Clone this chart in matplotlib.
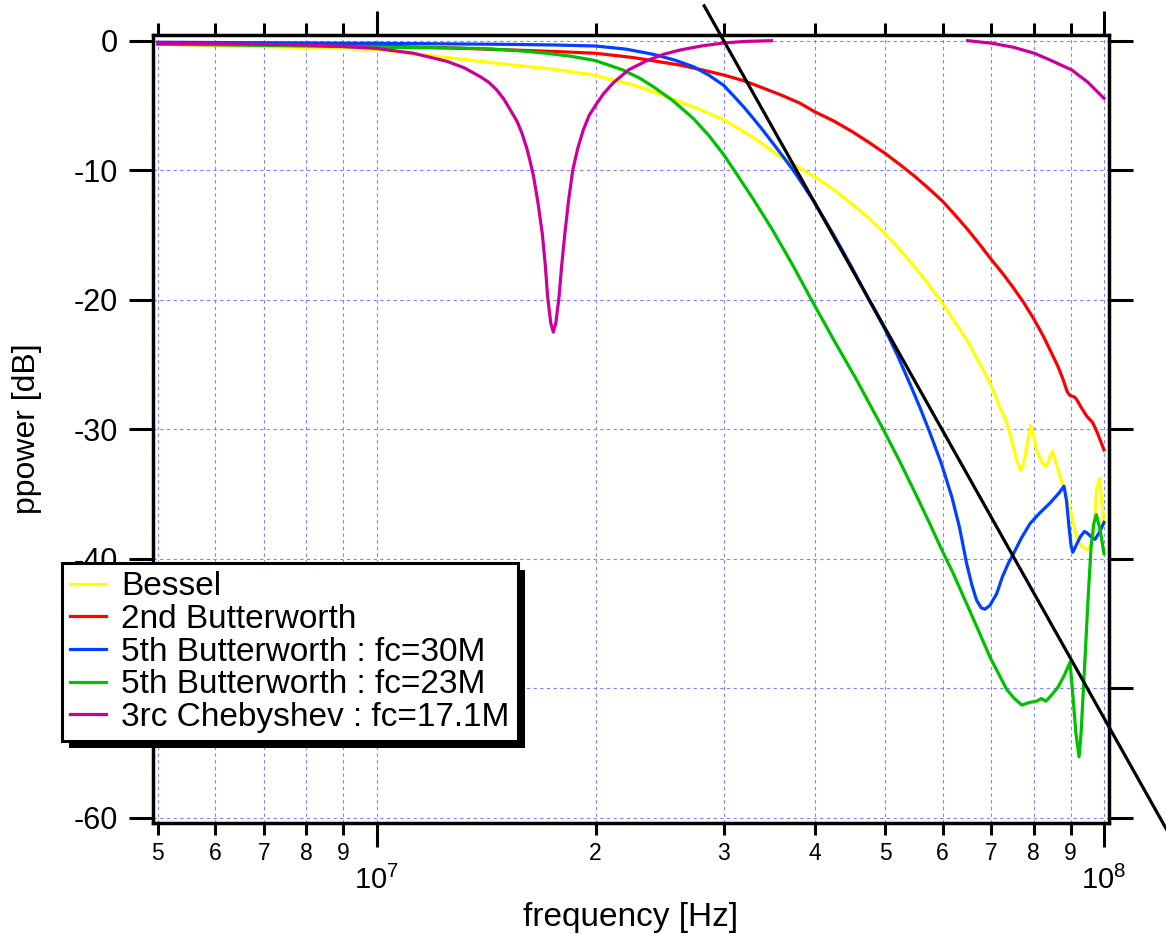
import numpy as np
import matplotlib
matplotlib.use('Agg')
import matplotlib.pyplot as plt
from matplotlib.patches import Rectangle
from matplotlib.ticker import FixedLocator, FixedFormatter
from matplotlib.transforms import IdentityTransform

plt.rcParams['font.family'] = ['Liberation Sans', 'DejaVu Sans']
plt.rcParams['axes.unicode_minus'] = False

# frequency in MHz, power in dB
bessel_f = [5, 6, 7, 8, 10, 11, 12.5, 15.4, 17.5, 19.85, 22.5, 25, 27.5, 30, 33, 35.85, 40, 42.5, 45, 47.5,
            50, 52.5, 55, 57.5, 60, 62.5, 64.75, 67, 69.7, 71.9, 73.5, 74.8, 75.85, 76.8, 77.6, 78.3, 79.3,
            80.1, 80.8, 82, 83.2, 84.2, 85, 86.5, 87.9, 89.8, 91.7, 93, 94.9, 96, 96.6, 97.2, 97.7, 98.6,
            99.3, 100]
bessel_db = [-0.28, -0.36, -0.45, -0.53, -0.68, -0.95, -1.3, -1.88, -2.2, -2.65, -3.4, -4.3, -5.2, -6.1,
             -7.5, -8.96, -10.5, -11.5, -12.6, -13.7, -14.9, -16.2, -17.5, -18.9, -20.3, -21.8, -23.1,
             -24.6, -26.4, -28.3, -29.5, -31.0, -32.4, -33.2, -32.6, -31.35, -29.7, -30.6, -31.6, -32.5,
             -32.9, -32.2, -31.7, -33.15, -34.4, -36.2, -38.3, -39.0, -39.3, -38.9, -38.3, -36.5, -34.7,
             -33.8, -35.5, -37.3]

butter2_f = [5, 7, 10, 12.5, 15, 17.5, 20, 22.5, 24, 26.1, 28, 30, 32, 33.6, 36, 38.2, 40, 42.5, 45, 47.5,
             50, 52.5, 55, 57.5, 60, 62.5, 65, 67.5, 70, 72.5, 75, 77.5, 80, 82.5, 85, 86.5, 87.9, 89,
             89.8, 91, 91.7, 93, 94.7, 96.5, 97.8, 100]
butter2_db = [-0.15, -0.25, -0.41, -0.55, -0.7, -0.83, -0.97, -1.3, -1.55, -1.88, -2.25, -2.65, -3.1, -3.55,
              -4.2, -4.83, -5.48, -6.2, -7.0, -7.85, -8.7, -9.6, -10.5, -11.45, -12.4, -13.5, -14.6,
              -15.75, -16.9, -17.95, -19.05, -20.2, -21.45, -22.8, -24.3, -25.2, -26.2, -27.1, -27.4,
              -27.5, -27.7, -28.3, -29.0, -29.5, -30.2, -31.6]

butter5_30_f = [5, 10, 15, 17.5, 20, 22, 24, 25.7, 27.24, 28.6, 30, 31, 32, 33, 34, 35.2, 36.6, 37.7, 40,
                42.5, 45, 47.5, 50, 52, 54.1, 56, 57.65, 59.8, 61.75, 63.3, 64.75, 65.8, 66.8, 67.8, 68.6,
                69.7, 71.2, 72.5, 73.8, 75.1, 77, 79.1, 81.5, 84.3, 86.8, 88.1, 88.8, 89.5, 90.1, 90.6,
                91.5, 92.8, 94.0, 94.7, 96, 97.2, 98.5, 100]
butter5_30_db = [-0.12, -0.2, -0.28, -0.33, -0.41, -0.65, -1.05, -1.5, -2.0, -2.65, -3.45, -4.3, -5.15, -6.05,
                 -6.95, -8.05, -9.3, -10.3, -12.5, -15.0, -17.5, -20.0, -22.3, -24.3, -26.5, -28.5, -30.3,
                 -32.7, -35.2, -37.6, -40.4, -42.0, -43.2, -43.8, -43.9, -43.6, -42.7, -41.4, -40.4, -39.6,
                 -38.4, -37.3, -36.5, -35.7, -34.9, -34.4, -35.5, -37.5, -39.0, -39.5, -39.0, -38.3, -37.9,
                 -38.0, -38.3, -38.5, -38.0, -37.2]

butter5_23_f = [5, 7, 10, 12, 13.9, 15.5, 17, 18.5, 20, 21.8, 23, 24, 25.5, 27.24, 28.6, 30, 31, 33, 35,
                37.3, 39.6, 42.5, 45.7, 49.7, 52.5, 55.3, 57.5, 59.7, 62, 65, 67.5, 69.7, 71.5, 73.5, 75.3,
                77.1, 79, 80.8, 82, 83.2, 84.8, 86.5, 88.2, 89.8, 90.6, 91.5, 92.4, 93.0, 93.6, 94.1, 95,
                96, 96.8, 97.6, 98.8, 100]
butter5_23_db = [-0.28, -0.36, -0.5, -0.55, -0.6, -0.75, -0.95, -1.2, -1.54, -2.26, -2.9, -3.55, -4.6, -6.0,
                 -7.3, -8.8, -10.0, -12.3, -14.6, -17.3, -20.0, -23.1, -26.2, -30.0, -32.6, -35.2, -37.2,
                 -39.2, -41.1, -43.7, -45.8, -47.6, -48.8, -50.1, -50.8, -51.3, -51.1, -51.0, -50.8,
                 -51.0, -50.5, -49.9, -49.0, -48.0, -50.5, -53.5, -55.3, -53.5, -50.5, -48.1, -43.5, -39.1,
                 -37.3, -36.6, -37.8, -39.6]

cheby_f = [5, 6, 7, 8, 9, 10, 11.23, 12.5, 13.2, 13.9, 14.25, 14.62, 14.95, 15.25, 15.6, 15.85, 16.08,
           16.25, 16.42, 16.65, 16.89, 17.05, 17.18, 17.35, 17.49, 17.63, 17.81, 17.95, 18.15, 18.35,
           18.6, 18.9, 19.23, 19.6, 20.07, 20.5, 21.15, 22.2, 23.5, 24.8, 26.12, 28, 29.97, 32, 34.9,
           np.nan, 64.95, 70.2, 75, 80.2, 84.3, 90.3, 95, 100]
cheby_db = [-0.2, -0.24, -0.28, -0.33, -0.45, -0.6, -0.97, -1.6, -2.1, -2.8, -3.2, -3.8, -4.5, -5.3,
            -6.25, -7.2, -8.3, -9.3, -10.4, -12.4, -14.9, -17.3, -19.8, -21.8, -22.5, -21.8, -19.8, -17.5,
            -14.8, -12.4, -10.0, -8.3, -6.9, -5.75, -4.85, -4.1, -3.25, -2.25, -1.55, -1.05, -0.72, -0.4,
            -0.18, -0.06, 0.0, np.nan, 0.0, -0.2, -0.5, -0.97, -1.49, -2.26, -3.2, -4.45]

# asymptote end points
slope_f = [28.2, 130]
slope_db = [2.69, -63.7]

series = [
    ('Bessel', bessel_f, bessel_db, '#ffff00'),
    ('2nd Butterworth', butter2_f, butter2_db, '#ff0000'),
    ('5th Butterworth : fc=30M', butter5_30_f, butter5_30_db, '#0040ff'),
    ('5th Butterworth : fc=23M', butter5_23_f, butter5_23_db, '#00c000'),
    ('3rc Chebyshev : fc=17.1M', cheby_f, cheby_db, '#cc0099'),
]

W, H = 1166, 934
fig = plt.figure(figsize=(W / 100, H / 100), dpi=100)
ax = fig.add_axes([153 / W, 1 - 823 / H, (1109 - 153) / W, (823 - 35) / H])

handles = []
for label, f, db, color in series:
    ln, = ax.plot(np.array(f) * 1e6, db, color=color, lw=2.3, label=label)
    handles.append(ln)
ax.plot(np.array(slope_f) * 1e6, slope_db, color='black', lw=2.3, clip_on=False)

ax.set_xscale('log')
ax.set_xlim(4.9243e6, 1.016e8)
ax.set_ylim(-60.41, 0.44)

ax.xaxis.set_major_locator(FixedLocator([1e7, 1e8]))
ax.xaxis.set_major_formatter(FixedFormatter([r'$\mathregular{10^{7}}$', r'$\mathregular{10^{8}}$']))
minors = [5e6, 6e6, 7e6, 8e6, 9e6] + [k * 1e7 for k in range(2, 10)]
ax.xaxis.set_minor_locator(FixedLocator(minors))
ax.xaxis.set_minor_formatter(FixedFormatter(['5', '6', '7', '8', '9'] + [str(k) for k in range(2, 10)]))

yt = [0, -10, -20, -30, -40, -50, -60]
ax.set_yticks(yt)
ax.set_yticklabels([str(v) for v in yt])

ax.tick_params(axis='x', which='major', direction='out', length=17, width=2.2,
               top=True, bottom=True, labelsize=21, pad=14)
ax.tick_params(axis='x', which='minor', direction='out', length=8.6, width=2.2,
               top=True, bottom=True, labelsize=16.5, pad=5)
ax.tick_params(axis='y', which='major', direction='out', length=17, width=2.2,
               left=True, right=True, labelsize=22, pad=8.5)

for s in ax.spines.values():
    s.set_linewidth(2.5)

ax.set_axisbelow(True)
ax.grid(which='both', axis='x', color='#7f7fff', lw=0.8, ls=(0, (3, 3)))
ax.grid(which='major', axis='y', color='#7f7fff', lw=0.8, ls=(0, (3, 3)))

ax.set_xlabel('frequency [Hz]', fontsize=24)
ax.xaxis.set_label_coords(0.5, -0.1005)
ax.set_ylabel('ppower [dB]', fontsize=23)
ax.yaxis.set_label_coords(-0.1161, 0.5)

leg = fig.legend(handles=handles, loc='upper left',
                 bbox_to_anchor=(62 / W, 1 - 563 / H), bbox_transform=fig.transFigure,
                 fancybox=False, framealpha=1, edgecolor='black', fontsize=24,
                 handlelength=1.08, handletextpad=0.45, labelspacing=0.05,
                 borderpad=0.25, borderaxespad=0)
leg.get_frame().set_linewidth(2.2)

# drop shadow behind the legend box
fig.canvas.draw()
bb = leg.get_window_extent()
shadow = Rectangle((bb.x0 + 7, bb.y0 - 7), bb.width, bb.height, transform=IdentityTransform(),
                   facecolor='black', edgecolor='none', zorder=leg.get_zorder() - 0.1)
fig.add_artist(shadow)

fig.savefig('out.png', dpi=100)
